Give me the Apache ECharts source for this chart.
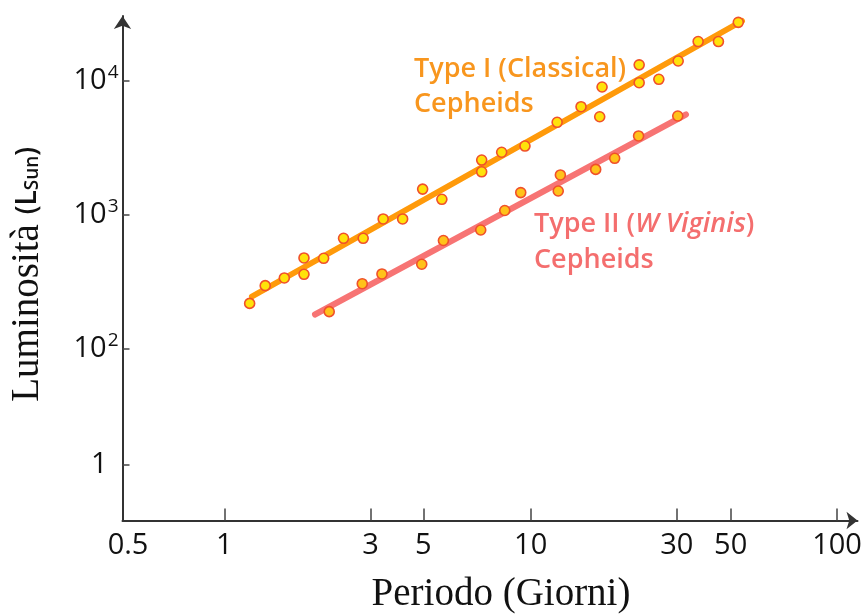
<!DOCTYPE html>
<html>
<head>
<meta charset="utf-8">
<script src="https://cdn.jsdelivr.net/npm/echarts@6/dist/echarts.min.js"></script>
<style>
  html, body { margin: 0; padding: 0; background: #ffffff; }
  #chart { width: 868px; height: 615px; }
</style>
</head>
<body>
<div id="chart"></div>
<script>
// ---- Data ----
// Type I (Classical) Cepheids: period (days) and luminosity (L_sun)
const periodTypeI = [1.21, 1.36, 1.57, 1.82, 1.82, 2.11, 2.45, 2.84, 3.30, 3.82, 4.44, 5.13, 6.92, 6.92, 8.04, 9.58, 12.2, 14.6, 16.8, 17.1, 22.6, 22.6, 26.2, 30.3, 35.2, 41.0, 47.6];
const lumTypeI    = [219, 297, 339, 478, 361, 475, 670, 670, 934, 934, 1560, 1310, 2570, 2100, 2940, 3270, 4920, 6430, 5410, 9020, 13200, 9710, 10300, 14100, 19700, 19700, 27400];

// Type II (W Virginis) Cepheids
const periodTypeII = [2.20, 2.82, 3.27, 4.41, 5.19, 6.87, 8.23, 9.28, 12.3, 12.5, 16.3, 18.8, 22.5, 30.2];
const lumTypeII    = [190, 307, 363, 429, 645, 773, 1080, 1470, 1510, 1990, 2190, 2650, 3890, 5480];

// Trend lines (end points)
const fitPeriodTypeI  = [1.231, 48.94];
const fitLumTypeI     = [246.5, 28040];
const fitPeriodTypeII = [1.977, 32.13];
const fitLumTypeII    = [180.9, 5623];

// Axis ticks (positions where the reference draws them) and their labels
const xTickValues = [0.485, 1, 3, 4.462, 10, 30, 44.96, 100];
const xTickLabels = ['0.5', '1', '3', '5', '10', '30', '50', '100'];
const yTickValues = [13.62, 100, 1000, 10000];
const yTickLabels = ['1', '10^2', '10^3', '10^4'];

const xAxisRange = [0.4653, 116.6];
const yAxisRange = [5.25, 30553];

// ---- Build chart ----
function zip(a, b) { return a.map((v, i) => [v, b[i]]); }
function nearestIndex(arr, v) {
  let best = 0, bd = Infinity;
  arr.forEach((t, i) => { const d = Math.abs(Math.log(t) - Math.log(v)); if (d < bd) { bd = d; best = i; } });
  return best;
}

const ORANGE = '#F8961E';
const PINK = '#F46E6E';
const SANS = "'Open Sans', 'Noto Sans', sans-serif";
const SERIF = "'Liberation Serif', 'DejaVu Serif', serif";

const chart = echarts.init(document.getElementById('chart'), null, { renderer: 'canvas' });

const option = {
  animation: false,
  backgroundColor: '#ffffff',
  grid: { left: 122.5, right: 10.5, top: 16, bottom: 94.5, containLabel: false, outerBoundsMode: 'none' },
  xAxis: {
    type: 'log',
    logBase: 10,
    min: xAxisRange[0],
    max: xAxisRange[1],
    name: 'Periodo (Giorni)',
    nameLocation: 'middle',
    nameGap: 55,
    nameTextStyle: { fontFamily: SERIF, fontSize: 39, color: '#111', padding: [0, 0, 0, 22] },
    axisLine: {
      show: true, onZero: false,
      symbol: ['none', 'arrow'], symbolSize: [13, 11],
      lineStyle: { color: '#333', width: 2 }
    },
    axisTick: {
      show: true, inside: true, length: 12,
      customValues: xTickValues.slice(1),
      lineStyle: { color: '#444', width: 1.5 }
    },
    axisLabel: {
      customValues: xTickValues,
      margin: 11,
      fontFamily: SANS, fontSize: 29, color: '#111',
      formatter: function (v) { return xTickLabels[nearestIndex(xTickValues, v)]; }
    },
    splitLine: { show: false },
    minorTick: { show: false }
  },
  yAxis: {
    type: 'log',
    logBase: 10,
    min: yAxisRange[0],
    max: yAxisRange[1],
    name: 'Luminosità {p|(L}{sub|Sun}{p|)}',
    nameLocation: 'middle',
    nameGap: 75,
    nameRotate: 90,
    nameTextStyle: {
      fontFamily: SERIF, fontSize: 39, color: '#111', padding: [0, 12, 0, 0],
      rich: {
        p: { fontFamily: SANS, fontSize: 28, fontWeight: 600, color: '#111' },
        sub: { fontFamily: SANS, fontSize: 19, fontWeight: 600, color: '#111', padding: [10, 0, 0, 0] }
      }
    },
    axisLine: {
      show: true, onZero: false,
      symbol: ['none', 'arrow'], symbolSize: [13, 13],
      lineStyle: { color: '#333', width: 2 }
    },
    axisTick: {
      show: true, inside: true, length: 7,
      customValues: yTickValues,
      lineStyle: { color: '#444', width: 1.5 }
    },
    axisLabel: {
      customValues: yTickValues,
      margin: 4,
      fontFamily: SANS, fontSize: 29, color: '#111',
      formatter: function (v) {
        const lab = yTickLabels[nearestIndex(yTickValues, v)];
        if (lab.indexOf('^') >= 0) {
          const parts = lab.split('^');
          return '{b|' + parts[0] + '}{sup|' + parts[1] + '}';
        }
        return '{one|' + lab + '}';
      },
      rich: {
        b: { fontFamily: SANS, fontSize: 29, color: '#111' },
        sup: { fontFamily: SANS, fontSize: 19, color: '#111', padding: [0, 0, 16, 1] },
        one: { fontFamily: SANS, fontSize: 29, color: '#111', padding: [0, 11, 0, 0] }
      }
    },
    splitLine: { show: false },
    minorTick: { show: false }
  },
  graphic: [
    {
      type: 'text', left: 414, top: 51.5, z: 10,
      style: {
        text: 'Type I (Classical)\nCepheids',
        fill: ORANGE, fontFamily: SANS, fontSize: 27, fontWeight: 600, lineHeight: 35
      }
    },
    {
      type: 'text', left: 534, top: 206, z: 10,
      style: {
        text: 'Type II ({i|W Viginis})\nCepheids',
        fill: PINK, fontFamily: SANS, fontSize: 27, fontWeight: 600, lineHeight: 36,
        rich: {
          i: { fill: PINK, fontFamily: SANS, fontSize: 27, fontWeight: 600, fontStyle: 'italic', lineHeight: 36 }
        }
      }
    }
  ],
  series: [
    {
      name: 'Fit Type I', type: 'line', data: zip(fitPeriodTypeI, fitLumTypeI),
      symbol: 'none', silent: true, z: 2,
      lineStyle: { color: '#FF9A0A', width: 6, cap: 'round' }
    },
    {
      name: 'Fit Type II', type: 'line', data: zip(fitPeriodTypeII, fitLumTypeII),
      symbol: 'none', silent: true, z: 2,
      lineStyle: { color: '#F77474', width: 6, cap: 'round' }
    },
    {
      name: 'Type I (Classical) Cepheids', type: 'scatter', data: zip(periodTypeI, lumTypeI),
      symbol: 'circle', symbolSize: 10, z: 3,
      itemStyle: { color: '#FFE20A', borderColor: '#F0502A', borderWidth: 1.6, opacity: 1 }
    },
    {
      name: 'Type II (W Virginis) Cepheids', type: 'scatter', data: zip(periodTypeII, lumTypeII),
      symbol: 'circle', symbolSize: 10, z: 3,
      itemStyle: { color: '#FFC21A', borderColor: '#F0502A', borderWidth: 1.6, opacity: 1 }
    }
  ]
};

chart.setOption(option);
</script>
</body>
</html>
